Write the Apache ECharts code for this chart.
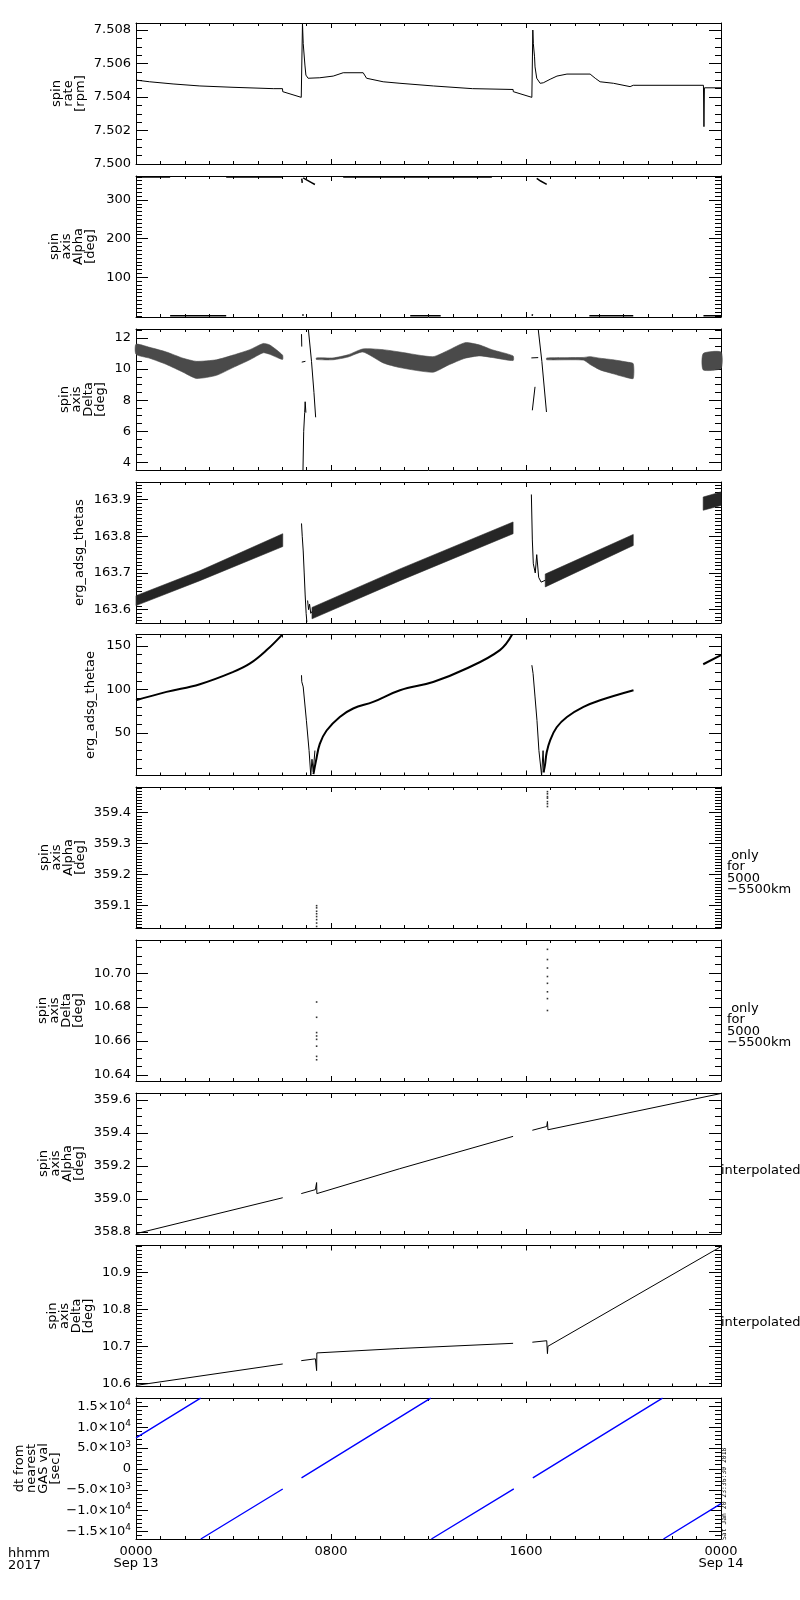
<!DOCTYPE html>
<html><head><meta charset="utf-8">
<script src="https://cdn.jsdelivr.net/npm/echarts@6/dist/echarts.min.js"></script>
<style>html,body{margin:0;padding:0;background:#fff}#c{width:800px;height:1600px}</style>
</head><body><div id="c"></div>
<script>
// ---------------- data (time in hours from 2017-09-13 00:00) ----------------
const xTicks = [0, 8, 16, 24];
const xTickLabels = ['0000\nSep 13', '0800', '1600', '0000\nSep 14'];

// panel 1: spin rate [rpm]
const rateTicks = [7.500, 7.502, 7.504, 7.506, 7.508];
const rateLabels = ['7.500', '7.502', '7.504', '7.506', '7.508'];
const rateT = [0, 0.56, 1.52, 2.62, 3.98, 5.63, 6.01, 6.02, 6.78, 6.83, 6.86, 6.93, 6.97, 7.06, 7.13, 7.54, 8.09, 8.50, 9.32, 9.46, 10.14, 10.83, 12.20, 13.80, 15.47, 15.48, 16.24, 16.28, 16.30, 16.35, 16.37, 16.44, 16.58, 16.71, 16.99, 17.27, 17.68, 18.63, 18.84, 19.04, 19.59, 20.27, 20.40, 23.28, 23.30, 23.32, 24.00];
const rateV = [7.50501, 7.50491, 7.50478, 7.50466, 7.50458, 7.50450, 7.50450, 7.50432, 7.50398, 7.50840, 7.50720, 7.50591, 7.50531, 7.50512, 7.50501, 7.50515, 7.50525, 7.50545, 7.50545, 7.50512, 7.50491, 7.50482, 7.50466, 7.50450, 7.50445, 7.50432, 7.50398, 7.50800, 7.50720, 7.50640, 7.50580, 7.50512, 7.50482, 7.50485, 7.50506, 7.50525, 7.50537, 7.50537, 7.50512, 7.50491, 7.50482, 7.50462, 7.50470, 7.50470, 7.50223, 7.50455, 7.50455];

// panel 2: spin axis Alpha [deg]
const alphaTicks = [100, 200, 300];
const alphaLabels = ['100', '200', '300'];
const alphaT = [0, 1.40, null, 1.40, 3.70, null, 3.70, 6.02, null, 6.80, 6.82, null, 6.86, 7.00, 7.20, 7.34, null, 6.84, 6.86, null, 8.50, 14.60, null, 11.25, 12.50, null, 16.44, 16.60, 16.85, null, 16.25, 16.27, null, 18.60, 20.40, null, 23.28, 24.00];
const alphaV = [359.6, 359.6, null, 0.4, 0.4, null, 359.6, 359.6, null, 355, 344, null, 357, 352, 345, 340, null, 0.5, 4, null, 359.6, 359.6, null, 0.4, 0.4, null, 356, 349, 340.5, null, 0.5, 4, null, 0.4, 0.4, null, 0.4, 0.4];

// panel 3: spin axis Delta [deg] (scatter band: lower / upper edge)
const deltaTicks = [4, 6, 8, 10, 12];
const deltaLabels = ['4', '6', '8', '10', '12'];
const deltaBandT = [0, 0.56, 1.25, 1.93, 2.48, 3.30, 3.98, 4.67, 5.22, 5.49, 6.01, null, 7.40, 8.08, 8.70, 9.31, 10.14, 10.82, 12.18, 12.80, 13.50, 14.10, 14.60, 15.47, null, 16.85, 18.35, 18.63, 19.04, 19.58, 20.15, 20.40, null, 23.27, 24.00];
const deltaLo = [10.95, 10.70, 10.30, 9.80, 9.40, 9.60, 10.10, 10.60, 11.05, 10.95, 10.62, null, 10.62, 10.60, 10.78, 11.10, 10.40, 10.10, 9.80, 10.25, 10.70, 10.85, 10.75, 10.55, null, 10.60, 10.58, 10.30, 9.95, 9.70, 9.45, 9.40, null, 9.95, 10.05];
const deltaHi = [11.60, 11.40, 11.10, 10.70, 10.50, 10.60, 10.90, 11.25, 11.65, 11.55, 10.90, null, 10.72, 10.72, 10.92, 11.30, 11.25, 11.10, 10.80, 11.20, 11.70, 11.55, 11.25, 10.85, null, 10.72, 10.75, 10.80, 10.70, 10.60, 10.45, 10.35, null, 11.00, 11.10];
const deltaSpikeT = [6.79, 6.80, null, 6.80, 6.95, null, 6.85, 6.88, 6.92, 6.94, 6.97, null, 7.07, 7.20, 7.30, 7.37, null, 16.26, 16.37, null, 16.22, 16.50, null, 16.50, 16.65, 16.84];
const deltaSpikeV = [12.25, 11.45, null, 10.45, 10.50, null, 3.50, 6.00, 7.20, 7.90, 7.20, null, 12.58, 10.50, 8.50, 6.90, null, 7.35, 8.86, null, 10.72, 10.74, null, 12.58, 10.50, 7.24];

// panel 4: erg_adsg_thetas
const thetasTicks = [163.6, 163.7, 163.8, 163.9];
const thetasLabels = ['163.6', '163.7', '163.8', '163.9'];
const thetasT = [0, 2.62, 6.02, null, 7.22, 10.83, 15.47, null, 16.79, 20.40, null, 23.27, 24.00];
const thetasLo = [163.611, 163.679, 163.772, null, 163.575, 163.679, 163.807, null, 163.662, 163.775, null, 163.871, 163.884];
const thetasHi = [163.638, 163.706, 163.807, null, 163.606, 163.711, 163.839, null, 163.697, 163.805, null, 163.907, 163.921];
const thetasSpikeT = [6.79, 6.82, 6.86, 6.90, 6.94, 6.98, 7.01, null, 7.04, 7.08, 7.12, 7.17, 7.22, null, 16.22, 16.26, 16.30, 16.38, 16.44, 16.52, 16.62, 16.79];
const thetasSpikeV = [163.835, 163.800, 163.760, 163.700, 163.640, 163.590, 163.566, null, 163.625, 163.600, 163.615, 163.590, 163.595, null, 163.914, 163.790, 163.725, 163.700, 163.750, 163.688, 163.675, 163.680];

// panel 5: erg_adsg_thetae
const thetaeTicks = [50, 100, 150];
const thetaeLabels = ['50', '100', '150'];
const thetaeT = [0, 1.25, 2.62, 3.99, 4.68, 5.36, 6.00, null, 7.28, 7.38, 7.54, 7.82, 8.36, 8.91, 9.73, 10.83, 12.19, 13.56, 14.93, 15.43, null, 16.72, 16.78, 16.85, 16.99, 17.26, 17.68, 18.36, 19.04, 20.41, null, 23.27, 24.00];
const thetaeV = [87.7, 97.3, 106.1, 120.2, 129.9, 145.2, 163.0, null, 3.0, 17.6, 37.6, 53.0, 68.5, 78.2, 85.8, 99.2, 108.7, 124.1, 145.2, 163.0, null, 5.0, 13.5, 28.0, 41.7, 56.7, 68.5, 80.0, 87.7, 99.2, null, 129.0, 139.4];
const thetaeSpikeT = [6.79, 6.80, 6.86, 6.99, 7.10, 7.17, 7.22, 7.27, 7.34, null, 16.24, 16.29, 16.37, 16.45, 16.53, 16.64, 16.70, 16.74];
const thetaeSpikeV = [116.4, 109.0, 103.0, 64.7, 30.0, 1.5, 20.0, 5.6, 30.0, null, 127.9, 118.4, 91.5, 64.5, 30.0, 1.5, 29.9, 5.0];

// panel 6: spin axis Alpha, only for 5000-5500 km
const alphaOnlyTicks = [359.1, 359.2, 359.3, 359.4];
const alphaOnlyLabels = ['359.1', '359.2', '359.3', '359.4'];
const alphaOnlyT = [7.41, 7.41, 7.41, 7.41, 7.41, 7.41, 7.41, 7.41, 16.88, 16.88, 16.88, 16.88, 16.88, 16.88, 16.88];
const alphaOnlyV = [359.100, 359.093, 359.082, 359.074, 359.065, 359.055, 359.044, 359.033, 359.468, 359.461, 359.452, 359.447, 359.436, 359.429, 359.420];

// panel 7: spin axis Delta, only for 5000-5500 km
const deltaOnlyTicks = [10.64, 10.66, 10.68, 10.70];
const deltaOnlyLabels = ['10.64', '10.66', '10.68', '10.70'];
const deltaOnlyT = [7.41, 7.41, 7.41, 7.41, 7.41, 7.41, 7.41, 7.41, 16.88, 16.88, 16.88, 16.88, 16.88, 16.88, 16.88, 16.88];
const deltaOnlyV = [10.683, 10.674, 10.665, 10.663, 10.661, 10.657, 10.651, 10.649, 10.714, 10.708, 10.703, 10.698, 10.694, 10.689, 10.685, 10.678];

// panel 8: interpolated Alpha
const interpAlphaTicks = [358.8, 359.0, 359.2, 359.4, 359.6];
const interpAlphaLabels = ['358.8', '359.0', '359.2', '359.4', '359.6'];
const interpAlphaT = [0, 6.02, null, 6.78, 7.36, 7.40, 7.41, 7.42, 10.82, 15.47, null, 16.26, 16.85, 16.88, 16.90, 24.00];
const interpAlphaV = [358.790, 359.008, null, 359.033, 359.057, 359.060, 359.100, 359.033, 359.184, 359.380, null, 359.417, 359.440, 359.470, 359.420, 359.640];

// panel 9: interpolated Delta
const interpDeltaTicks = [10.6, 10.7, 10.8, 10.9];
const interpDeltaLabels = ['10.6', '10.7', '10.8', '10.9'];
const interpDeltaT = [0, 6.02, null, 6.78, 7.36, 7.41, 7.42, 10.82, 15.47, null, 16.26, 16.85, 16.88, 16.90, 24.00];
const interpDeltaV = [10.594, 10.652, null, 10.661, 10.666, 10.634, 10.682, 10.694, 10.708, null, 10.711, 10.715, 10.680, 10.700, 10.970];

// panel 10: dt from nearest GAS val [sec]
const dtTicks = [-15000, -10000, -5000, 0, 5000, 10000, 15000];
const dtLabelMant = ['\u22121.5\u00d710', '\u22121.0\u00d710', '\u22125.0\u00d710', '0', '5.0\u00d710', '1.0\u00d710', '1.5\u00d710'];
const dtLabelExp = ['4', '4', '3', '', '3', '4', '4'];
const dtT = [0, 2.65, null, 2.66, 6.02, null, 6.79, 12.09, null, 12.12, 15.50, null, 16.28, 21.60, null, 21.64, 24.00];
const dtV = [7440, 16970, null, -16800, -4820, null, -2160, 16970, null, -16800, -4800, null, -2160, 16970, null, -16800, -8330];

// ---------------- layout / style ----------------
const FONT = 'DejaVu Sans';
const LEFT = 136, WIDTH = 585, H = 141;
const TOPS = [23, 176, 329, 482, 634.5, 787, 940, 1093, 1245.5, 1398];

const panels = [
  {name: 'spin\nrate\n[rpm]', min: 7.500, max: 7.50842, ticks: rateTicks, labels: rateLabels, minor: 0.0005, gap: 49},
  {name: 'spin\naxis\nAlpha\n[deg]', min: -3, max: 362, ticks: alphaTicks, labels: alphaLabels, minor: 10, gap: 39},
  {name: 'spin\naxis\nDelta\n[deg]', min: 3.51, max: 12.58, ticks: deltaTicks, labels: deltaLabels, minor: 0.5, gap: 29},
  {name: 'erg_adsg_thetas', min: 163.5636, max: 163.948, ticks: thetasTicks, labels: thetasLabels, minor: 0.01, gap: 50},
  {name: 'erg_adsg_thetae', min: 1.4, max: 163.1, ticks: thetaeTicks, labels: thetaeLabels, minor: 10, gap: 39},
  {name: 'spin\naxis\nAlpha\n[deg]', min: 359.028, max: 359.483, ticks: alphaOnlyTicks, labels: alphaOnlyLabels, minor: 0.01, gap: 49},
  {name: 'spin\naxis\nDelta\n[deg]', min: 10.6365, max: 10.7195, ticks: deltaOnlyTicks, labels: deltaOnlyLabels, minor: 0.005, gap: 51},
  {name: 'spin\naxis\nAlpha\n[deg]', min: 358.788, max: 359.643, ticks: interpAlphaTicks, labels: interpAlphaLabels, minor: 0.05, gap: 50},
  {name: 'spin\naxis\nDelta\n[deg]', min: 10.591, max: 10.973, ticks: interpDeltaTicks, labels: interpDeltaLabels, minor: 0.01, gap: 41},
  {name: 'dt from\nnearest\nGAS val\n[sec]', min: -16800, max: 17000, ticks: dtTicks, labels: null, minor: 1000, gap: 74}
];

function minorValues(min, max, step) {
  const out = [];
  const k0 = Math.ceil(min / step - 1e-9), k1 = Math.floor(max / step + 1e-9);
  for (let k = k0; k <= k1; k++) out.push(+(k * step).toFixed(8));
  return out;
}
function nearestIdx(arr, v) {
  let b = 0;
  for (let i = 1; i < arr.length; i++) if (Math.abs(arr[i] - v) < Math.abs(arr[b] - v)) b = i;
  return b;
}

const grids = [], xAxes = [], yAxes = [], series = [];
const black = {color: '#000', width: 1};

panels.forEach((p, i) => {
  grids.push({left: LEFT, width: WIDTH, top: TOPS[i], height: H, show: false, containLabel: false, outerBoundsMode: 'none'});
  p.xi = xAxes.length;
  ['bottom', 'top'].forEach(pos => {
    const showLab = pos === 'bottom' && i === panels.length - 1;
    xAxes.push({
      type: 'value', gridIndex: i, position: pos, min: 0, max: 24, interval: 8,
      axisLine: {show: true, onZero: false, lineStyle: black},
      axisTick: {show: true, inside: true, length: 5, lineStyle: black},
      minorTick: {show: true, splitNumber: 8, length: 3, lineStyle: black},
      splitLine: {show: false}, minorSplitLine: {show: false},
      axisLabel: {
        show: showLab, margin: 7, color: '#000', fontFamily: FONT, fontSize: 13, lineHeight: 12,
        showMinLabel: true, showMaxLabel: true, hideOverlap: false,
        formatter: v => xTickLabels[nearestIdx(xTicks, v)]
      }
    });
  });
  p.yi = yAxes.length;
  const minors = minorValues(p.min, p.max, p.minor);
  [['left', true], ['left', false], ['right', true], ['right', false]].forEach(([pos, major]) => {
    const isMain = pos === 'left' && major;
    const ax = {
      type: 'value', gridIndex: i, position: pos, min: p.min, max: p.max,
      name: isMain ? p.name : '', nameLocation: 'middle', nameRotate: 90, nameGap: p.gap, nameMoveOverlap: false,
      nameTextStyle: {fontFamily: FONT, fontSize: 13, lineHeight: 12, color: '#000'},
      axisLine: {show: major, onZero: false, lineStyle: black},
      axisTick: {show: true, inside: true, length: major ? 12 : 6, customValues: major ? p.ticks : minors, lineStyle: black},
      splitLine: {show: false},
      axisLabel: {show: isMain, customValues: p.ticks, margin: 5, color: '#000', fontFamily: FONT, fontSize: 13, hideOverlap: false}
    };
    if (isMain) {
      if (p.labels) {
        ax.axisLabel.formatter = v => p.labels[nearestIdx(p.ticks, v)];
      } else {
        ax.axisLabel.formatter = v => {
          const k = nearestIdx(p.ticks, v);
          return '{n|' + dtLabelMant[k] + '}' + (dtLabelExp[k] ? '{s|' + dtLabelExp[k] + '}' : '');
        };
        ax.axisLabel.rich = {
          n: {fontFamily: FONT, fontSize: 13, color: '#000', lineHeight: 16},
          s: {fontFamily: FONT, fontSize: 9, color: '#000', lineHeight: 16, verticalAlign: 'top'}
        };
      }
    }
    yAxes.push(ax);
  });
});

function pairs(T, V) {
  return T.map((t, k) => (t === null || V[k] === null) ? ['-', '-'] : [t, V[k]]);
}
function addLine(pi, T, V, color, width, smooth) {
  const p = panels[pi];
  series.push({
    type: 'line', xAxisIndex: p.xi, yAxisIndex: p.yi, data: pairs(T, V),
    showSymbol: false, symbol: 'none', connectNulls: false, clip: true, silent: true, animation: false,
    smooth: smooth || false,
    lineStyle: {color: color || '#000', width: width || 1}
  });
}
function addScatter(pi, T, V) {
  const p = panels[pi];
  series.push({
    type: 'scatter', xAxisIndex: p.xi, yAxisIndex: p.yi, data: pairs(T, V),
    symbol: 'rect', symbolSize: [1.6, 1.6], itemStyle: {color: '#000'}, silent: true, animation: false
  });
}
function addBand(pi, T, LO, HI, fill, smooth) {
  const p = panels[pi];
  const runs = []; let cur = [];
  T.forEach((t, k) => { if (t === null) { if (cur.length) runs.push(cur); cur = []; } else cur.push(k); });
  if (cur.length) runs.push(cur);
  series.push({
    type: 'custom', xAxisIndex: p.xi, yAxisIndex: p.yi, silent: true, animation: false,
    data: runs.map(r => [T[r[0]], LO[r[0]]]), encode: {x: 0, y: 1},
    renderItem: (params, api) => {
      const r = runs[params.dataIndex];
      const up = r.map(k => api.coord([T[k], HI[k]]));
      const dn = r.slice().reverse().map(k => api.coord([T[k], LO[k]]));
      return {type: 'polygon', shape: {points: up.concat(dn), smooth: smooth || 0}, style: {fill: fill, stroke: fill, lineWidth: 0.6}};
    }
  });
}

addLine(0, rateT, rateV);
addLine(1, alphaT, alphaV, '#000', 1.5);
addBand(2, deltaBandT, deltaLo, deltaHi, '#4a4a4a', 0.2);
addLine(2, deltaSpikeT, deltaSpikeV);
addBand(3, thetasT, thetasLo, thetasHi, '#262626', 0);
addLine(3, thetasSpikeT, thetasSpikeV);
addLine(4, thetaeT, thetaeV, '#000', 2, 0.4);
addLine(4, thetaeSpikeT, thetaeSpikeV);
addScatter(5, alphaOnlyT, alphaOnlyV);
addScatter(6, deltaOnlyT, deltaOnlyV);
addLine(7, interpAlphaT, interpAlphaV);
addLine(8, interpDeltaT, interpDeltaV);
addLine(9, dtT, dtV, '#0000ff', 1.4);

const txt = {fontFamily: FONT, fontSize: 13, fill: '#000'};
const option = {
  backgroundColor: '#fff',
  animation: false,
  grid: grids, xAxis: xAxes, yAxis: yAxes, series: series,
  graphic: [
    {type: 'text', left: 727, top: 849, style: Object.assign({text: ' only\nfor\n5000\n\u22125500km', lineHeight: 11.5}, txt)},
    {type: 'text', left: 727, top: 1002, style: Object.assign({text: ' only\nfor\n5000\n\u22125500km', lineHeight: 11.5}, txt)},
    {type: 'text', left: 721, top: 1164, style: Object.assign({text: 'interpolated'}, txt)},
    {type: 'text', left: 721, top: 1316.5, style: Object.assign({text: 'interpolated'}, txt)},
    {type: 'text', left: 8, top: 1547, style: Object.assign({text: 'hhmm\n2017', lineHeight: 12}, txt)},
    {type: 'text', x: 727.5, y: 1540, rotation: Math.PI / 2,
     style: {text: 'Sat Jan 20 23:36:30 2018', fontFamily: 'DejaVu Sans Mono', fontSize: 6.4, fill: '#000', align: 'left', verticalAlign: 'bottom'}}
  ]
};
const chart = echarts.init(document.getElementById('c'), null, {renderer: 'canvas'});
chart.setOption(option);
</script>
</body></html>
